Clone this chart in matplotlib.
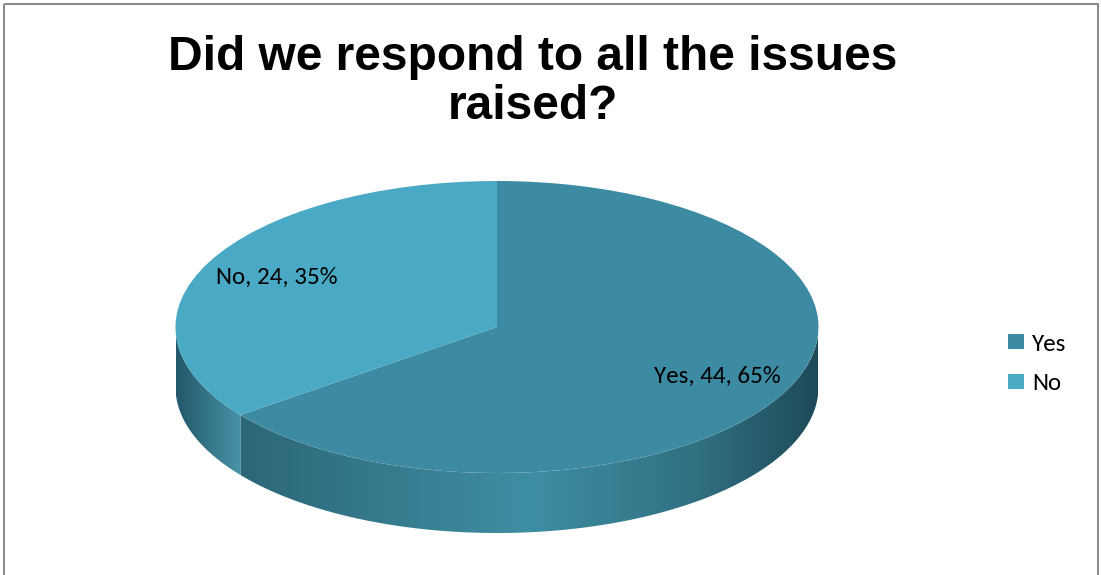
import matplotlib
matplotlib.use('Agg')
import matplotlib.pyplot as plt
import numpy as np
from matplotlib import font_manager
from matplotlib.colors import LinearSegmentedColormap
from matplotlib.patches import Polygon, Rectangle

# ---- data ----
categories = ['Yes', 'No']
values = [44, 24]
title = 'Did we respond to all the issues\nraised?'

# ---- style ----
top_colors = ['#3d8ba2', '#4aaac5']
side_stops = [
    [(0.0, '#2c6777'), (0.5, '#3e8ea3'), (0.8, '#306f80'), (1.0, '#1e4a58')],
    [(0.0, '#22586a'), (1.0, '#4893a8')],
]


def pick(names):
    avail = {f.name for f in font_manager.fontManager.ttflist}
    for n in names:
        if n in avail:
            return n
    return 'DejaVu Sans'


title_font = pick(['Liberation Sans', 'Arial'])
label_font = pick(['Carlito', 'Lato', 'Open Sans'])

W, H = 1101, 575
fig = plt.figure(figsize=(W / 100, H / 100), dpi=100)
bg = fig.add_axes([0, 0, 1, 1])
bg.set_xlim(0, W)
bg.set_ylim(H, 0)
bg.axis('off')
bg.add_patch(Rectangle((3.5, 3.5), W - 7, H + 20, fill=False, ec='#8c8c8c', lw=1.5))
bg.text(533, 82, title, ha='center', va='center', fontsize=34.5,
        fontweight='bold', family=title_font, linespacing=1.14, color='black')

# pie geometry (pixels)
cx, cy, rx, ry, depth = 497, 327, 321.5, 146, 60
d = depth / ry
ax = fig.add_axes([(cx - rx) / W, (H - cy - ry - depth) / H, 2 * rx / W, (2 * ry + depth) / H])

total = sum(values)
labels = [f'{c}, {v}, {round(v / total * 100)}%' for c, v in zip(categories, values)]
wedges, texts = ax.pie(values, startangle=90, counterclock=False, colors=top_colors,
                       labels=labels, labeldistance=0.765,
                       wedgeprops=dict(linewidth=0, zorder=2),
                       textprops=dict(fontsize=18, family=label_font, color='black', zorder=5))
for t in texts:
    t.set_ha('center')
    t.set_va('center')
ax.set_aspect('auto')
ax.set_xlim(-1, 1)
ax.set_ylim(-1 - d, 1)
ax.axis('off')

# side of the 3D pie (front half, angles -180..0)
for w, stops in zip(wedges, side_stops):
    t1, t2 = w.theta1, w.theta2
    for k in (-720, -360, 0, 360):
        a0 = max(t1 + k, -180)
        a1 = min(t2 + k, 0)
        if a1 - a0 <= 0.01:
            continue
        t = np.radians(np.linspace(a0, a1, 300))
        topx, topy = np.cos(t), np.sin(t)
        poly = np.vstack([np.column_stack([topx, topy]),
                          np.column_stack([topx, topy - d])[::-1]])
        clip = Polygon(poly, closed=True, facecolor='none', edgecolor='none')
        ax.add_patch(clip)
        cmap = LinearSegmentedColormap.from_list('side', stops)
        grad = np.linspace(0, 1, 256)[None, :]
        im = ax.imshow(grad, cmap=cmap, aspect='auto',
                       extent=[np.cos(np.radians(a0)), np.cos(np.radians(a1)), -1 - d, 0.05],
                       zorder=1, interpolation='bilinear')
        im.set_clip_path(clip)
ax.set_xlim(-1, 1)
ax.set_ylim(-1 - d, 1)

leg = fig.legend(wedges, categories, loc='center left', bbox_to_anchor=(1008 / W, 1 - 364 / H),
                 frameon=False, handlelength=0.65, handleheight=0.55, handletextpad=0.3,
                 labelspacing=0.75, borderpad=0, borderaxespad=0,
                 prop=dict(family=label_font, size=18))

fig.savefig('out.png', dpi=100)
